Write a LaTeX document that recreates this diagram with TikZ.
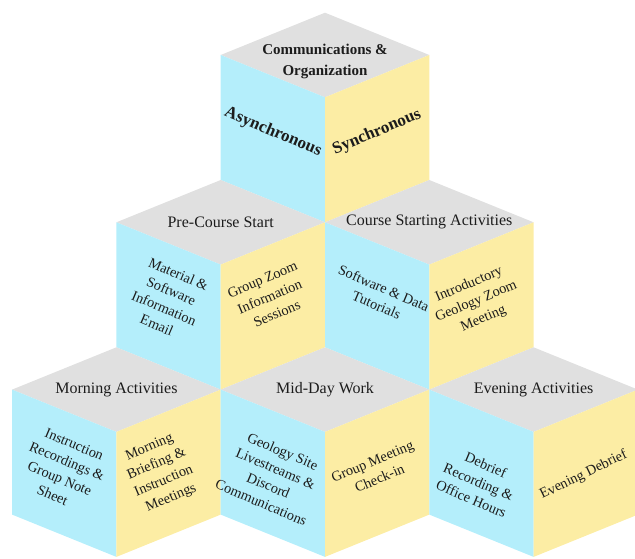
\documentclass[tikz,border=0pt]{standalone}
\usepackage{fontspec}
\setmainfont{Liberation Serif}
\definecolor{facetop}{RGB}{224,224,224}
\definecolor{faceleft}{RGB}{180,238,251}
\definecolor{faceright}{RGB}{252,237,164}
\definecolor{ink}{RGB}{28,28,28}
\def\cw{104.3}
\def\ct{42.3}
\def\ch{125}
% #1 name, #2 front vertex, #3 top text pos, #4 top text, #5 left pos, #6 left text, #7 right pos, #8 right text
\newcommand\CubeAt[8]{%
  \begin{scope}[shift={#2}]
    \fill[facetop] (0,0) -- (-\cw,\ct) -- (0,2*\ct) -- (\cw,\ct) -- cycle;
    \fill[faceleft] (0,0) -- (-\cw,\ct) -- (-\cw,\ct-\ch) -- (0,-\ch) -- cycle;
    \fill[faceright] (0,0) -- (\cw,\ct) -- (\cw,\ct-\ch) -- (0,-\ch) -- cycle;
    \node[toptext] (#1-top) at #3 {#4};
    \node[lefttext] (#1-left) at #5 {#6};
    \node[righttext] (#1-right) at #7 {#8};
  \end{scope}}
\tikzset{
  toptext/.style={align=center, text=ink, inner sep=0pt, font=\fontsize{16}{21}\selectfont},
  lefttext/.style={align=center, text=ink, inner sep=0pt, rotate=-23, font=\fontsize{14.3}{18.5}\selectfont},
  righttext/.style={align=center, text=ink, inner sep=0pt, rotate=23, font=\fontsize{14.3}{18.5}\selectfont}
}
\begin{document}
\begin{tikzpicture}[x=1pt,y=1pt]
  \useasboundingbox (0,0) rectangle (635,558);
  % top cube
  \CubeAt{comm}{(325,460.7)}{(0,36)}{\textbf{\fontsize{15}{23}\selectfont Communications \&}\\\textbf{\fontsize{15}{23}\selectfont Organization}}
    {(-52,-35)}{\textbf{\fontsize{17}{20}\selectfont Asynchronous}}
    {(52,-35)}{\textbf{\fontsize{17}{20}\selectfont Synchronous}}
  % row 2
  \CubeAt{pre}{(220.7,293.4)}{(0,\ct)}{Pre-Course Start}
    {(-53,-35)}{Material \&\\Software\\Information\\Email}
    {(49,-32)}{Group Zoom\\Information\\Sessions}
  \CubeAt{start}{(429.3,293.4)}{(0,\ct)}{Course Starting Activities}
    {(-49,-32)}{Software \& Data\\Tutorials}
    {(47,-37)}{Introductory\\Geology Zoom\\Meeting}
  % row 3
  \CubeAt{morning}{(116.4,126.1)}{(0,\ct)}{Morning Activities}
    {(-53,-38)}{Instruction\\Recordings \&\\Group Note\\Sheet}
    {(44,-41)}{Morning\\Briefing \&\\Instruction\\Meetings}
  \CubeAt{midday}{(325,126.1)}{(0,\ct)}{Mid-Day Work}
    {(-53,-45)}{Geology Site\\Livestreams \&\\Discord\\Communications}
    {(51,-38)}{Group Meeting\\Check-in}
  \CubeAt{evening}{(533.6,126.1)}{(0,\ct)}{Evening Activities}
    {(-55,-50)}{Debrief\\Recording \&\\Office Hours}
    {(50,-43)}{\rotatebox{3}{Evening Debrief}}
\end{tikzpicture}
\end{document}
